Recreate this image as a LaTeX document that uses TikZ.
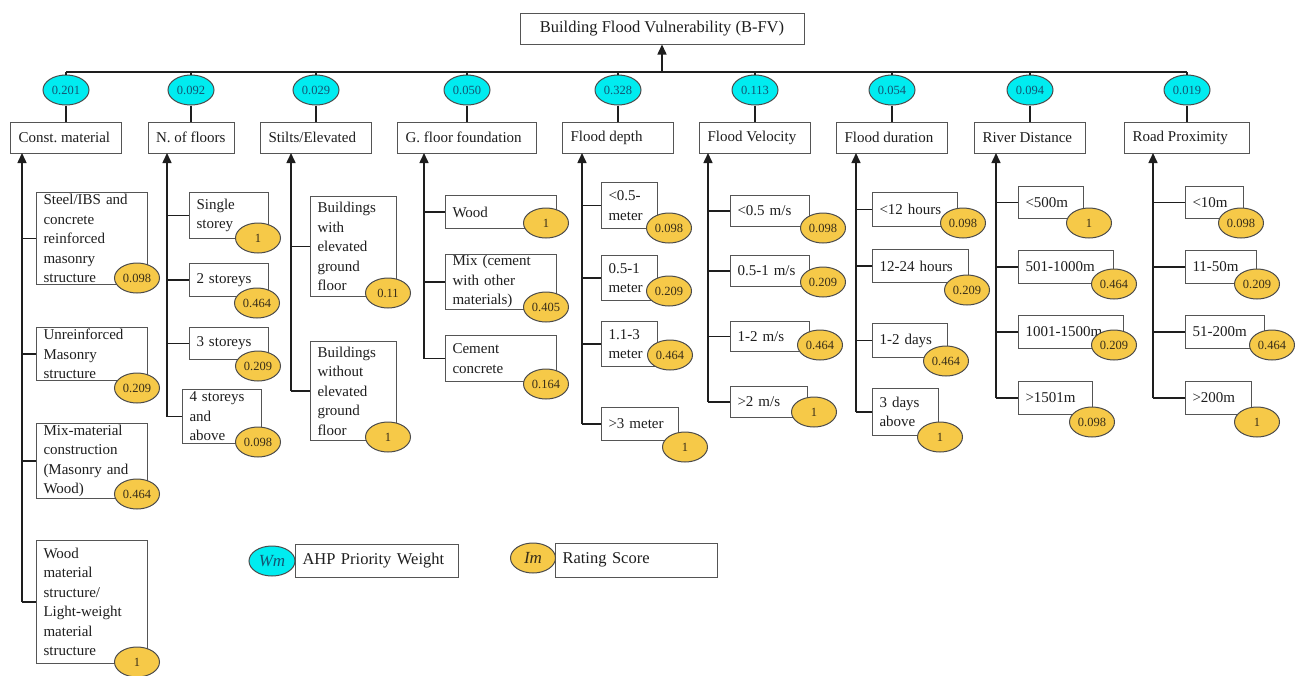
\documentclass[tikz,border=0pt]{standalone}
\usepackage{fontspec}
\setmainfont{Liberation Serif}
\usetikzlibrary{arrows.meta,shapes.geometric}

\definecolor{wfill}{RGB}{0,236,240}
\definecolor{wtext}{RGB}{20,85,115}
\definecolor{sfill}{RGB}{246,201,72}
\definecolor{stext}{RGB}{55,45,25}
\definecolor{edge}{RGB}{85,85,85}
\definecolor{ink}{RGB}{30,30,30}

\tikzset{
  box/.style={draw=edge, line width=1pt, fill=white, text=ink, inner ysep=1pt, inner xsep=7pt,
    font=\fontsize{15}{19.5}\selectfont, align=left},
  opt/.style={box, anchor=north west},
  weight/.style={ellipse, draw=ink!80, line width=1pt, fill=wfill, text=wtext, inner sep=0pt,
    minimum width=46, minimum height=30, font=\fontsize{12.5}{14}\selectfont},
  score/.style={ellipse, draw=ink!80, line width=1pt, fill=sfill, text=stext, inner sep=0pt,
    minimum width=45, minimum height=30, font=\fontsize{12.5}{14}\selectfont},
  link/.style={draw=ink, line width=1.5pt},
  arr/.style={link, -{Triangle[width=9pt,length=10pt]}}
}

\newcommand{\optnode}[6]{%
  \pgfmathsetlengthmacro{\optw}{#4-14}%
  \node[opt, minimum width=#4, minimum height=#5, text width=\optw] (#1) at (#2,#3) {#6};}
\newcommand{\headnode}[4]{%
  \pgfmathsetlengthmacro{\optw}{#3-16}%
  \node[box, inner xsep=8pt, minimum width=#3, minimum height=31] (#1) at (#2,137.5) {\makebox[\optw][l]{#4}};}

\begin{document}
\frenchspacing
\begin{tikzpicture}[x=1pt, y=-1pt]
  \useasboundingbox (0,0) rectangle (1295,675);

  % goal and criteria
  \node[box, align=center, minimum width=284, minimum height=31, font=\fontsize{16.5}{19}\selectfont] (top) at (662,28.5) {Building Flood Vulnerability (B-FV)};
  \coordinate (bar) at (0,72);

  \headnode{h1}{66}{111}{Const. material}
  \headnode{h2}{191}{86}{N. of floors}
  \headnode{h3}{316}{111}{Stilts/Elevated}
  \headnode{h4}{467}{139}{G. floor foundation}
  \headnode{h5}{618}{111}{Flood depth}
  \headnode{h6}{755}{111}{Flood Velocity}
  \headnode{h7}{892}{111}{Flood duration}
  \headnode{h8}{1030}{111}{River Distance}
  \headnode{h9}{1187}{125}{Road Proximity}

  \node[weight] (w1) at (66,90) {0.201};
  \node[weight] (w2) at (191,90) {0.092};
  \node[weight] (w3) at (316,90) {0.029};
  \node[weight] (w4) at (467,90) {0.050};
  \node[weight] (w5) at (618,90) {0.328};
  \node[weight] (w6) at (755,90) {0.113};
  \node[weight] (w7) at (892,90) {0.054};
  \node[weight] (w8) at (1030,90) {0.094};
  \node[weight] (w9) at (1187,90) {0.019};

  \draw[link] (w1 |- bar) -- (w9 |- bar);
  \draw[arr] (bar -| top.south) -- (top.south);
  \foreach \i in {1,...,9} {
    \draw[link] (w\i.north) -- (w\i |- bar);
    \draw[link] (w\i.south) -- (h\i.north);
  }

  % spines under the criteria
  \coordinate (s1) at (22,153);
  \coordinate (s2) at (167,153);
  \coordinate (s3) at (291,153);
  \coordinate (s4) at (424,153);
  \coordinate (s5) at (582,153);
  \coordinate (s6) at (708,153);
  \coordinate (s7) at (856,153);
  \coordinate (s8) at (996,153);
  \coordinate (s9) at (1153,153);

  % sub-criteria
  \optnode{a1}{36}{192}{111}{92}{Steel/IBS and\\concrete\\reinforced\\masonry\\structure}
  \optnode{b1}{36}{327}{111}{53}{Unreinforced\\Masonry\\structure}
  \optnode{c1}{36}{423}{111}{75}{Mix-material\\construction\\(Masonry and\\Wood)}
  \optnode{d1}{36}{540}{111}{123}{Wood\\material\\structure/\\Light-weight\\material\\structure}

  \optnode{a2}{189}{192}{79}{46}{Single\\storey}
  \optnode{b2}{189}{263}{79}{33}{2 storeys}
  \optnode{c2}{189}{327}{79}{32}{3 storeys}
  \optnode{d2}{182}{389}{79}{54}{4 storeys\\and\\above}

  \optnode{a3}{310}{196}{86}{100}{Buildings\\with\\elevated\\ground\\floor}
  \optnode{b3}{310}{341}{86}{99}{Buildings\\without\\elevated\\ground\\floor}

  \optnode{a4}{445}{195}{111}{33}{Wood}
  \optnode{b4}{445}{254}{111}{54}{Mix (cement\\with other\\materials)}
  \optnode{c4}{445}{335}{111}{46}{Cement\\concrete}

  \optnode{a5}{601}{182}{56}{46}{<0.5-\\meter}
  \optnode{b5}{601}{255}{56}{45}{0.5-1\\meter}
  \optnode{c5}{601}{321}{56}{45}{1.1-3\\meter}
  \optnode{d5}{601}{407}{77}{33}{>3 meter}

  \optnode{a6}{730}{195}{79}{31}{<0.5 m/s}
  \optnode{b6}{730}{255}{79}{31}{0.5-1 m/s}
  \optnode{c6}{730}{321}{79}{30}{1-2 m/s}
  \optnode{d6}{730}{386}{77}{31}{>2 m/s}

  \optnode{a7}{872}{192}{85}{34}{<12 hours}
  \optnode{b7}{872}{249}{96}{33}{12-24 hours}
  \optnode{c7}{872}{323}{75}{34}{1-2 days}
  \optnode{d7}{872}{388}{66}{47}{3 days\\above}

  \optnode{a8}{1018}{186}{65}{32}{<500m}
  \optnode{b8}{1018}{250}{95}{33}{501-1000m}
  \optnode{c8}{1018}{315}{105}{33}{1001-1500m}
  \optnode{d8}{1018}{381}{74}{33}{>1501m}

  \optnode{a9}{1185}{186}{58}{32}{<10m}
  \optnode{b9}{1185}{250}{71}{33}{11-50m}
  \optnode{c9}{1185}{315}{79}{33}{51-200m}
  \optnode{d9}{1185}{381}{66}{33}{>200m}

  \draw[arr] (d1.west -| s1) -- (s1);
  \draw[arr] (d2.west -| s2) -- (s2);
  \draw[arr] (b3.west -| s3) -- (s3);
  \draw[arr] (c4.west -| s4) -- (s4);
  \foreach \i in {5,...,9}
    \draw[arr] (d\i.west -| s\i) -- (s\i);
  \foreach \c/\s in {a1/s1,b1/s1,c1/s1,d1/s1,a2/s2,b2/s2,c2/s2,d2/s2,a3/s3,b3/s3,
      a4/s4,b4/s4,c4/s4,a5/s5,b5/s5,c5/s5,d5/s5,a6/s6,b6/s6,c6/s6,d6/s6,
      a7/s7,b7/s7,c7/s7,d7/s7,a8/s8,b8/s8,c8/s8,d8/s8,a9/s9,b9/s9,c9/s9,d9/s9}
    \draw[link] (\c.west -| \s) -- (\c.west);

  % rating scores
  \node[score] (a1s) at (137,278) {0.098};
  \node[score] (b1s) at (137,388) {0.209};
  \node[score] (c1s) at (137,494) {0.464};
  \node[score] (d1s) at (137,662) {1};
  \node[score] (a2s) at (258,238) {1};
  \node[score] (b2s) at (257,303) {0.464};
  \node[score] (c2s) at (258,366) {0.209};
  \node[score] (d2s) at (258,442) {0.098};
  \node[score] (a3s) at (388,293) {0.11};
  \node[score] (b3s) at (388,437) {1};
  \node[score] (a4s) at (546,223) {1};
  \node[score] (b4s) at (546,307) {0.405};
  \node[score] (c4s) at (546,384) {0.164};
  \node[score] (a5s) at (669,228) {0.098};
  \node[score] (b5s) at (669,291) {0.209};
  \node[score] (c5s) at (670,355) {0.464};
  \node[score] (d5s) at (685,447) {1};
  \node[score] (a6s) at (823,228) {0.098};
  \node[score] (b6s) at (823,282) {0.209};
  \node[score] (c6s) at (820,345) {0.464};
  \node[score] (d6s) at (814,412) {1};
  \node[score] (a7s) at (963,223) {0.098};
  \node[score] (b7s) at (967,290) {0.209};
  \node[score] (c7s) at (946,361) {0.464};
  \node[score] (d7s) at (940,437) {1};
  \node[score] (a8s) at (1089,223) {1};
  \node[score] (b8s) at (1114,284) {0.464};
  \node[score] (c8s) at (1114,345) {0.209};
  \node[score] (d8s) at (1092,422) {0.098};
  \node[score] (a9s) at (1241,223) {0.098};
  \node[score] (b9s) at (1257,284) {0.209};
  \node[score] (c9s) at (1272,345) {0.464};
  \node[score] (d9s) at (1257,422) {1};

  % legend
  \node[box, anchor=west, minimum width=163, minimum height=33, text width=149pt, font=\fontsize{16.5}{19}\selectfont] (wmkey) at (295,560.5) {AHP Priority Weight};
  \node[weight, font=\fontsize{17}{19}\selectfont\itshape] (wm) at (272,561) {Wm};
  \node[box, anchor=west, minimum width=162, minimum height=34, text width=148pt, font=\fontsize{16.5}{19}\selectfont] (imkey) at (555,560) {Rating Score};
  \node[score, font=\fontsize{17}{19}\selectfont\itshape] (im) at (533,558) {Im};
\end{tikzpicture}
\end{document}
